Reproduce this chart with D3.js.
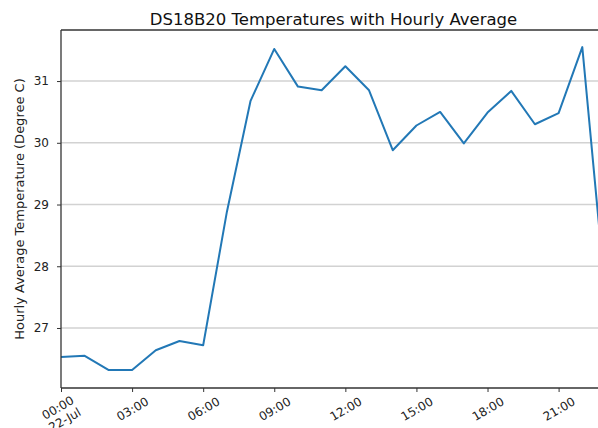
<!DOCTYPE html>
<html>
<head>
<meta charset="utf-8">
<script src="https://cdn.jsdelivr.net/npm/d3@7"></script>
<style>
  body { margin: 0; background: #fff; }
  svg { display: block; font-family: "DejaVu Sans", sans-serif; }
</style>
</head>
<body>
<div id="chart"></div>
<script>
// hourly averages, 22 Jul
const hours = [0, 1, 2, 3, 4, 5, 6, 7, 8, 9, 10, 11, 12, 13, 14, 15, 16, 17, 18, 19, 20, 21, 22, 23];
const temps = [26.53, 26.55, 26.32, 26.32, 26.64, 26.79, 26.72, 28.88, 30.68, 31.52, 30.91, 30.85,
               31.24, 30.85, 29.88, 30.28, 30.50, 29.99, 30.49, 30.84, 30.30, 30.48, 31.55, 27.45];
const yTicks = [27, 28, 29, 30, 31];
const xTickHours = [0, 3, 6, 9, 12, 15, 18, 21];

const width = 598;
const height = 428;
const padLeft = 61, padTop = 30, padBottom = 388, padRight = 606;

const svg = d3.select("#chart")
  .append("svg")
  .attr("width", width)
  .attr("height", height);

const toDate = (h) => new Date(2018, 6, 22, h);
const data = hours.map((h, i) => [toDate(h), temps[i]]);

const xScale = d3.scaleTime()
  .domain([toDate(0), toDate(23)])
  .range([padLeft, padRight]);

const yScale = d3.scaleLinear()
  .domain([26.028, 31.827])
  .range([padBottom, padTop]);

// horizontal grid
svg.append("g")
  .selectAll("line")
  .data(yTicks)
  .enter()
  .append("line")
  .attr("x1", padLeft)
  .attr("x2", padRight)
  .attr("y1", (d) => yScale(d))
  .attr("y2", (d) => yScale(d))
  .attr("stroke", "#d2d2d2")
  .attr("stroke-width", 1.6);

// the line
const line = d3.line()
  .x((d) => xScale(d[0]))
  .y((d) => yScale(d[1]));

svg.append("path")
  .datum(data)
  .attr("fill", "none")
  .attr("stroke", "#2278b6")
  .attr("stroke-width", 2)
  .attr("stroke-linejoin", "round")
  .attr("d", line);

// y axis
const yAxis = d3.axisLeft(yScale)
  .tickValues(yTicks)
  .tickSize(4)
  .tickPadding(8)
  .tickFormat(d3.format("d"));

const yG = svg.append("g")
  .attr("transform", "translate(" + padLeft + ",0)")
  .call(yAxis);
yG.select(".domain").remove();
yG.selectAll(".tick line").attr("stroke", "#333");
yG.selectAll(".tick text")
  .attr("font-size", 12)
  .attr("fill", "#222")
  .attr("font-family", "DejaVu Sans");

// x axis
const xAxis = d3.axisBottom(xScale)
  .tickValues(xTickHours.map(toDate))
  .tickSize(4)
  .tickFormat("");

const xG = svg.append("g")
  .attr("transform", "translate(0," + padBottom + ")")
  .call(xAxis);
xG.select(".domain").remove();
xG.selectAll(".tick line").attr("stroke", "#333");

const fmt = d3.timeFormat("%H:%M");
const fmtDay = d3.timeFormat("%d-%b");
xG.selectAll(".tick").each(function (d) {
  const g = d3.select(this);
  const first = d.getHours() === 0;
  const t = g.append("text")
    .attr("font-size", 12)
    .attr("fill", "#222")
    .attr("font-family", "DejaVu Sans")
    .attr("text-anchor", "middle")
    .attr("transform", "translate(0," + (first ? 26 : 21) + ") rotate(-30)");
  if (first) {
    t.append("tspan").attr("x", 0).attr("dy", "-0.25em").text(fmt(d));
    t.append("tspan").attr("x", 0).attr("dy", "1.15em").text(fmtDay(d));
  } else {
    t.append("tspan").attr("x", 0).attr("dy", "0.35em").text(fmt(d));
  }
});

// spines
svg.append("line")
  .attr("x1", padLeft).attr("x2", padLeft)
  .attr("y1", padTop).attr("y2", padBottom)
  .attr("stroke", "#333").attr("stroke-width", 1.3);
svg.append("line")
  .attr("x1", padLeft).attr("x2", padRight)
  .attr("y1", padBottom).attr("y2", padBottom)
  .attr("stroke", "#333").attr("stroke-width", 1.3);
svg.append("line")
  .attr("x1", padLeft).attr("x2", padRight)
  .attr("y1", padTop).attr("y2", padTop)
  .attr("stroke", "#333").attr("stroke-width", 1.3);

// title and label
svg.append("text")
  .attr("x", (padLeft + padRight) / 2)
  .attr("y", 25)
  .attr("text-anchor", "middle")
  .attr("font-size", 16.5)
  .attr("fill", "#111")
  .text("DS18B20 Temperatures with Hourly Average");

svg.append("text")
  .attr("transform", "translate(24," + (padTop + padBottom) / 2 + ") rotate(-90)")
  .attr("text-anchor", "middle")
  .attr("font-size", 13)
  .attr("fill", "#222")
  .text("Hourly Average Temperature (Degree C)");
</script>
</body>
</html>
